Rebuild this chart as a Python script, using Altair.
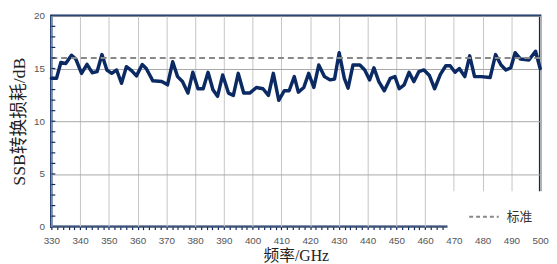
import altair as alt
import pandas as pd

freq = [330, 331.8, 333.3, 335, 337, 338.5, 340.5, 342.4, 344.2, 345.9, 347.6, 349.3, 351,
        352.7, 354.4, 356.1, 357.9, 359.6, 361.6, 363, 365.3, 368.4, 370.4, 372.2, 373.9,
        375.6, 377.5, 379.2, 381, 382.8, 384.5, 386.2, 387.8, 389.6, 391.6, 393.3, 395,
        396.9, 399, 401.3, 403.6, 405.5, 407.2, 409.1, 411, 412.7, 414.5, 415.9, 417.8,
        419.5, 421.3, 423, 425, 427, 428.5, 430.1, 431.9, 433.2, 434.9, 437.3, 439, 440.7,
        442.2, 443.9, 445.8, 447.9, 449.5, 451, 452.7, 454.4, 456.1, 457.8, 459.6, 461.5,
        463.3, 465.3, 467.2, 468.7, 470.4, 471.9, 473.8, 475.5, 477.2, 479.5, 482.6, 484.5,
        486.4, 488.1, 489.8, 491.3, 493.2, 496.1, 498.4, 500]
loss = [14.07, 14.07, 15.57, 15.48, 16.26, 15.9, 14.54, 15.4, 14.6, 14.7, 16.32, 14.86, 14.54,
        14.86, 13.6, 15.17, 14.8, 14.3, 15.38, 15.0, 13.83, 13.76, 13.45, 15.64, 14.23,
        13.76, 12.67, 14.64, 13.08, 13.08, 14.64, 12.98, 12.36, 14.39, 12.67, 12.45, 14.54,
        12.67, 12.67, 13.2, 13.08, 12.45, 14.54, 11.98, 12.89, 12.89, 14.23, 12.76, 13.2,
        14.54, 13.2, 15.33, 14.23, 13.92, 14.0, 16.5, 14.07, 13.14, 15.33, 15.33, 14.86, 13.92,
        15.07, 13.76, 12.89, 14.07, 14.23, 13.08, 13.45, 14.64, 13.76, 14.7, 14.86, 14.33,
        13.08, 14.45, 15.26, 15.26, 14.64, 15.0, 14.23, 16.2, 14.23, 14.23, 14.14, 16.32,
        15.33, 14.86, 15.07, 16.5, 15.9, 15.8, 16.64, 15.0]
standard_value = [16]
standard_label = ["标准"]
x_ticks = list(range(330, 501, 2))   # labelled every 10
y_ticks = [0, 5, 10, 15, 20]
y_minor = list(range(1, 20))

df = pd.DataFrame({"freq": freq, "loss": loss})
std_df = pd.DataFrame({"v": standard_value, "name": standard_label})
minor_df = pd.DataFrame({"m": y_minor})

navy = "#0b2a63"
serif = "Liberation Serif, Noto Sans CJK SC"
sans = "Liberation Sans, Arial"

xscale = alt.Scale(domain=[330, 500], nice=False, zero=False)
yscale = alt.Scale(domain=[0, 20], nice=False)

yaxis = alt.Axis(values=y_ticks, title="SSB转换损耗/dB", titleFont=serif, titleFontSize=18,
                 titleFontWeight="normal", titleColor="#222", titlePadding=5,
                 labelFont=sans, labelFontSize=10, labelColor="#555", labelPadding=7,
                 tickSize=0, domain=False, grid=True, gridColor="#a8a8a8", gridWidth=1)

line = alt.Chart(df).mark_line(color=navy, strokeWidth=3.5, strokeJoin="round", strokeCap="round").encode(
    x=alt.X("freq:Q", scale=xscale,
            axis=alt.Axis(values=x_ticks, title="频率/GHz", titleFont=serif, titleFontSize=16,
                          titleFontWeight="normal", titleColor="#222", titlePadding=2,
                          labelFont=sans, labelFontSize=10, labelColor="#555", labelPadding=6,
                          labelExpr="datum.value % 10 === 0 ? datum.label : ''",
                          labelOverlap=False, labelFlush=False,
                          tickSize=3, tickColor=navy, tickWidth=1.2,
                          domain=False, grid=True,
                          gridColor={"condition": {"test": "datum.value % 10 === 0", "value": "#c4c4c4"},
                                     "value": "transparent"},
                          gridWidth=1, format="d")),
    y=alt.Y("loss:Q", scale=yscale, axis=yaxis),
)

minor = alt.Chart(minor_df).mark_tick(color=navy, thickness=1.2, size=4, opacity=1).encode(
    y=alt.Y("m:Q", scale=yscale, axis=yaxis),
    x=alt.value(2),
)

std = alt.Chart(std_df).mark_rule(strokeDash=[6, 4], strokeWidth=2).encode(
    y=alt.Y("v:Q", scale=yscale, axis=yaxis),
    color=alt.Color("name:N", scale=alt.Scale(range=["#888888"]),
                    legend=alt.Legend(title=None, orient="none", legendX=402, legendY=178,
                                      fillColor="white", padding=10, symbolType="stroke",
                                      symbolSize=900, symbolStrokeWidth=2, symbolDash=[4, 3],
                                      symbolOffset=11,
                                      labelFont="Noto Sans CJK SC", labelFontSize=13,
                                      labelColor="#333", labelOffset=7)),
)

chart = alt.layer(line, std, minor).properties(
    width=496, height=214,
    autosize=alt.AutoSizeParams(type="none"),
    padding={"left": 44, "top": 6, "right": 9, "bottom": 37},
    background="white",
).configure_view(stroke=navy, strokeWidth=2.5)

chart.save("out.html", embed_options={"renderer": "svg", "actions": False})
